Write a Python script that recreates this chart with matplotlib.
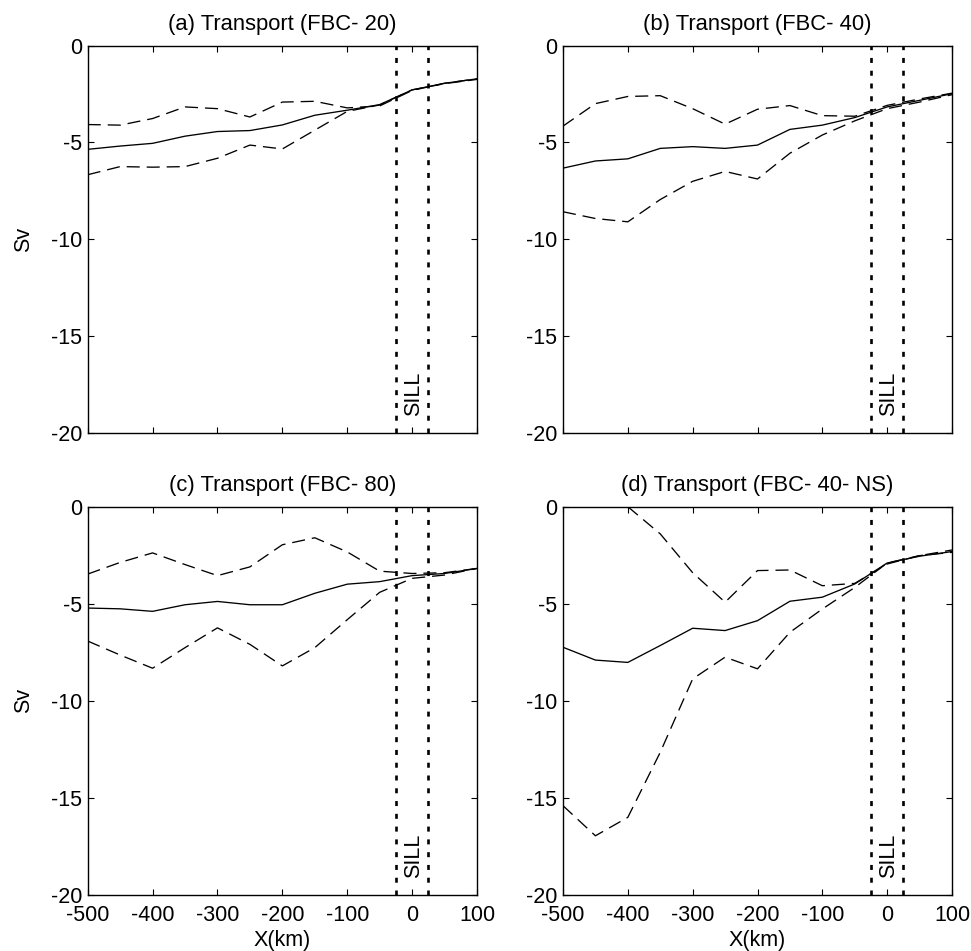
import numpy as np
import matplotlib
matplotlib.use("Agg")
import matplotlib.pyplot as plt

plt.rcParams['font.family'] = ['Liberation Sans', 'DejaVu Sans']
plt.rcParams['font.size'] = 15.5
plt.rcParams['axes.unicode_minus'] = False
plt.rcParams['lines.scale_dashes'] = False

# ---- data ----
x_km = [-500, -450, -400, -350, -300, -250, -200, -150, -100, -50, 0, 50, 100]

a_mean = [-5.36, -5.19, -5.05, -4.68, -4.44, -4.39, -4.10, -3.60, -3.34, -3.05, -2.29, -1.95, -1.72]
a_upper = [-4.08, -4.11, -3.77, -3.17, -3.26, -3.69, -2.92, -2.88, -3.22, -3.12, -2.32, -1.95, -1.72]
a_lower = [-6.67, -6.25, -6.28, -6.25, -5.82, -5.14, -5.34, -4.37, -3.40, -3.07, -2.29, -1.97, -1.75]

b_mean = [-6.33, -5.96, -5.85, -5.31, -5.22, -5.31, -5.14, -4.33, -4.11, -3.72, -3.17, -2.83, -2.49]
b_upper = [-4.16, -3.00, -2.63, -2.59, -3.26, -4.06, -3.29, -3.10, -3.62, -3.65, -3.09, -2.76, -2.46]
b_lower = [-8.58, -8.93, -9.10, -7.95, -7.01, -6.50, -6.89, -5.56, -4.62, -3.89, -3.26, -2.92, -2.54]

c_mean = [-5.22, -5.26, -5.39, -5.05, -4.88, -5.05, -5.05, -4.46, -3.99, -3.86, -3.55, -3.44, -3.18]
c_upper = [-3.47, -2.87, -2.38, -2.98, -3.55, -3.10, -1.96, -1.60, -2.33, -3.32, -3.44, -3.40, -3.18]
c_lower = [-6.92, -7.64, -8.32, -7.26, -6.24, -7.09, -8.20, -7.26, -5.82, -4.41, -3.69, -3.52, -3.18]

d_mean = [-7.24, -7.90, -8.02, -7.15, -6.26, -6.38, -5.87, -4.87, -4.66, -3.98, -2.90, -2.55, -2.31]
d_upper = [np.nan, np.nan, 0.0, -1.40, -3.40, -4.92, -3.29, -3.26, -4.07, -3.95, -2.95, -2.52, -2.23]
d_lower = [-15.4, -16.95, -16.0, -12.65, -8.87, -7.75, -8.35, -6.47, -5.27, -4.16, -2.90, -2.52, -2.35]

titles = ["(a) Transport (FBC- 20)", "(b) Transport (FBC- 40)",
          "(c) Transport (FBC- 80)", "(d) Transport (FBC- 40- NS)"]
sill_edges = [-25, 25]
xticks = [-500, -400, -300, -200, -100, 0, 100]
yticks = [-20, -15, -10, -5, 0]

panels = [(a_mean, a_upper, a_lower), (b_mean, b_upper, b_lower),
          (c_mean, c_upper, c_lower), (d_mean, d_upper, d_lower)]

fig = plt.figure(figsize=(9.71, 9.51), dpi=100)
W, H = 971.0, 951.0
lefts = [87.7, 563.0]
tops = [45.5, 506.7]
bottoms = [433.0, 895.0]
widths = [389.3, 389.0]

for i, (mean, up, lo) in enumerate(panels):
    r, c = divmod(i, 2)
    l = lefts[c] / W
    b = 1 - bottoms[r] / H
    w = widths[c] / W
    h = (bottoms[r] - tops[r]) / H
    ax = fig.add_axes([l, b, w, h])
    ax.plot(x_km, mean, color='black', lw=0.95, solid_joinstyle='round')
    ax.plot(x_km, up, color='black', lw=0.95, dashes=[9.4, 5.0])
    ax.plot(x_km, lo, color='black', lw=0.95, dashes=[9.4, 5.0])
    for s in sill_edges:
        ax.axvline(s, color='black', lw=1.9, dashes=[3.6, 5.6], dash_capstyle='butt')
    ax.text(2, -19.1, "SILL", rotation=90, ha='center', va='bottom', fontsize=15.5)
    ax.set_xlim(-500, 100)
    ax.set_ylim(-20, 0)
    ax.set_xticks(xticks)
    ax.set_yticks(yticks)
    ax.tick_params(direction='in', length=4.5, width=0.8, top=True, right=True,
                   labelsize=15.5, pad=4)
    ax.tick_params(axis='x', pad=7)
    for sp in ax.spines.values():
        sp.set_linewidth(1.0)
    ax.set_title(titles[i], fontsize=15.8, pad=11)
    if r == 0:
        ax.set_xticklabels([])
    else:
        ax.set_xlabel("X(km)", fontsize=15.5, labelpad=3)
    if c == 0:
        ax.set_ylabel("Sv", fontsize=15.5, labelpad=12)

fig.savefig("out.png", dpi=100)
